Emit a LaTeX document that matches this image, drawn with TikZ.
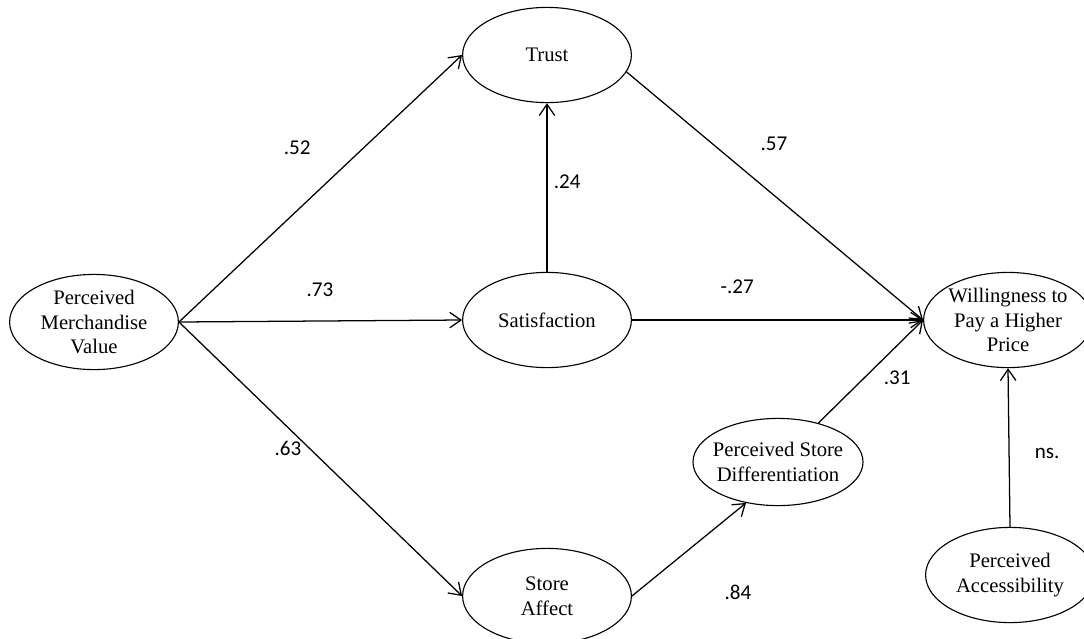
\documentclass[tikz,border=0pt]{standalone}
\usepackage{fontspec}
\setmainfont{Liberation Serif}
\newfontfamily\labelfont{Carlito}
\usepackage{tikz}
\usetikzlibrary{shapes.geometric}
\usetikzlibrary{arrows.meta}

\begin{document}
\begin{tikzpicture}[
  construct/.style={draw, ellipse, line width=0.8pt, align=center,
    minimum width=4.22cm, minimum height=2.38cm, inner sep=-9pt,
    font=\fontsize{14.7}{17.7}\selectfont},
  path/.style={line width=0.9pt, -{Straight Barb[length=8pt,width=11pt]}},
  coef/.style={font=\labelfont\fontsize{15}{17}\selectfont}]

\useasboundingbox (0,0) rectangle (27.1,-15.95);

% constructs
\node[construct] (pmv) at (2.35,-8.05) {Perceived\\Merchandise\\Value};
\node[construct] (trust) at (13.675,-1.375) {Trust};
\node[construct] (sat) at (13.675,-8.0) {Satisfaction};
\node[construct] (affect) at (13.675,-14.9) {Store\\Affect};
\node[construct, minimum width=4.25cm, minimum height=2.18cm]
  (psd) at (19.45,-11.55) {Perceived Store\\Differentiation};
\node[construct] (wtp) at (25.2,-8.0) {Willingness to\\Pay a Higher\\Price};
\node[construct] (access) at (25.25,-14.375) {Perceived\\Accessibility};

% paths
\draw[path] (pmv.east) -- (trust.west);
\draw[path] (pmv.east) -- (sat.west);
\draw[path] (pmv.east) -- (affect.west);
\draw[path] (sat.north) -- (trust.south);
\draw[path] (trust.-12) -- (wtp.west);
\draw[path] (sat.east) -- (wtp.west);
\draw[path] (affect.east) -- (psd.232);
\draw[path] (psd.44) -- (wtp.west);
\draw[path] (access.north) -- (wtp.south);

% coefficients
\node[coef] (c52) at (7.43,-3.7) {.52};
\node[coef] (c73) at (8.0,-7.25) {.73};
\node[coef] (c63) at (7.2,-11.22) {.63};
\node[coef] (c24) at (14.18,-4.55) {.24};
\node[coef] (c57) at (19.35,-3.6) {.57};
\node[coef] (c27) at (18.43,-7.18) {-.27};
\node[coef] (c31) at (22.43,-9.45) {.31};
\node[coef] (c84) at (18.45,-14.8) {.84};
\node[coef] (cns) at (26.18,-11.33) {ns.};
\end{tikzpicture}
\end{document}
